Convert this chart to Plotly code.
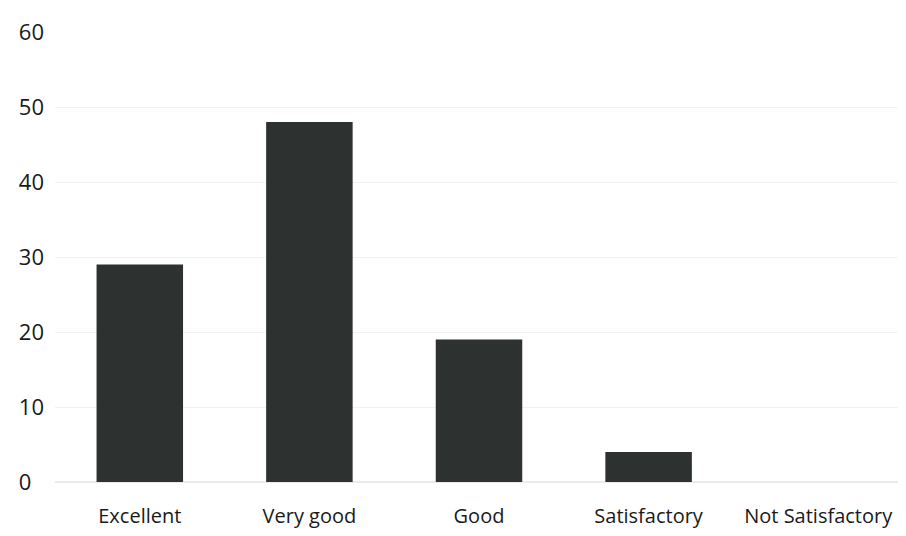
import plotly.graph_objects as go

categories = ["Excellent", "Very good", "Good", "Satisfactory", "Not Satisfactory"]
values = [29, 48, 19, 4, 0]
y_ticks = [0, 10, 20, 30, 40, 50, 60]
y_tick_labels = ["0\u2007", "10", "20", "30", "40", "50", "60"]

fig = go.Figure(go.Bar(
    x=categories, y=values,
    marker=dict(color="#2d312f", line=dict(width=0)),
    width=0.51,
))

fig.update_layout(
    width=906, height=536,
    margin=dict(l=47, r=11, t=24, b=62),
    paper_bgcolor="white", plot_bgcolor="white",
    showlegend=False,
    font=dict(family="Open Sans, Liberation Sans, sans-serif", size=20, color="#1a1a1a"),
)
fig.update_yaxes(range=[0, 60], tickvals=y_ticks, ticktext=y_tick_labels,
                 showgrid=True, gridcolor="#f2f2f2", automargin=False,
                 zeroline=True, zerolinecolor="#ebebeb", ticks="", ticklabelstandoff=10,
                 tickfont=dict(size=22), showline=False)
fig.update_xaxes(showgrid=False, ticks="", ticklabelstandoff=20, showline=False)

fig.write_html("out.html")
